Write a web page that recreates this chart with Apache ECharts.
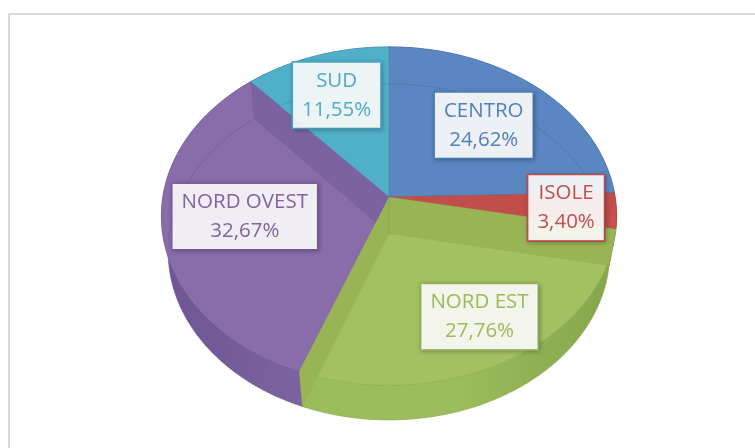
<!DOCTYPE html>
<html>
<head>
    <meta charset="UTF-8" />
    <title>Ripartizione per area</title>
    <script src="https://cdn.jsdelivr.net/npm/echarts@6/dist/echarts.min.js"></script>
    <style>
        body { margin: 0; background: #fff; }
        #main { width: 755px; height: 448px; }
    </style>
</head>
<body>
<div id="main"></div>
<script type="text/javascript">
    // dati
    var categories = ['CENTRO', 'ISOLE', 'NORD EST', 'NORD OVEST', 'SUD'];
    var shares = [24.62, 3.40, 27.76, 32.67, 11.55];

    // colori (faccia superiore, lato, banda interna, testo)
    var topColors  = ['#5a87c2', '#c8514f', '#a2c262', '#896dab', '#50afc9'];
    var sideColors = ['#4f79b2', '#b54946', '#9bbd5b', '#7e64a2', '#47a0b8'];
    var sideDark   = ['#41679c', '#9c3b39', '#84a54a', '#6d5593', '#3b8aa0'];
    var bandColors = ['#5580bb', '#c24e4b', '#98b455', '#7b62a1', '#4aa7c1'];
    var textColors = ['#4f81bd', '#c0504d', '#9bbb59', '#8064a2', '#4bacc6'];
    // posizione etichette (raggio relativo)
    var labelRadius = [0.63, 0.78, 0.76, 0.64, 0.7];

    // proiezione prospettica della torta 3D
    var cx = 389, cy = 197, F = 1357, D = 6.0, H = 0.247;
    var tilt = 47.6 * Math.PI / 180;
    var s = Math.sin(tilt), c = Math.cos(tilt);

    function proj(X, Y, Z) {
        var d = D - Z * c - Y * s;
        return [cx + F * X / d, cy + F * (Z * s - Y * c) / d];
    }
    function rim(t, Y, r) {
        r = r == null ? 1 : r;
        return proj(r * Math.sin(t), Y, -r * Math.cos(t));
    }
    function arc(t1, t2, Y) {
        var pts = [];
        var n = Math.max(2, Math.ceil(Math.abs(t2 - t1) / (Math.PI / 180)));
        for (var k = 0; k <= n; k++) {
            pts.push(rim(t1 + (t2 - t1) * k / n, Y));
        }
        return pts;
    }

    var total = shares.reduce(function (a, b) { return a + b; }, 0);
    var starts = [];
    var acc = 0;
    shares.forEach(function (v) { starts.push(acc / total * Math.PI * 2); acc += v; });

    function fmt(v) { return v.toFixed(2).replace('.', ',') + '%'; }

    var myChart = echarts.init(document.getElementById('main'));

    function renderSlice(params, api) {
        var i = params.dataIndex;
        var t1 = starts[i];
        var t2 = t1 + api.value(0) / total * Math.PI * 2;
        var children = [];

        // parete laterale
        var side = arc(t1, t2, 0).concat(arc(t2, t1, -H));
        children.push({
            type: 'polygon', z2: 1,
            shape: { points: side },
            style: {
                fill: {
                    type: 'linear', x: cx - 228, y: 0, x2: cx + 228, y2: 0, global: true,
                    colorStops: [
                        { offset: 0, color: sideDark[i] },
                        { offset: 0.35, color: sideColors[i] },
                        { offset: 0.65, color: sideColors[i] },
                        { offset: 1, color: sideDark[i] }
                    ]
                },
                stroke: sideDark[i], lineWidth: 0.6
            }
        });

        // faccia superiore
        var top = [proj(0, 0, 0)].concat(arc(t1, t2, 0));
        children.push({
            type: 'polygon', z2: 10,
            shape: { points: top },
            style: { fill: topColors[i], stroke: sideDark[i], lineWidth: 0.6, strokeOpacity: 0.6 }
        });

        // pareti radiali viste attraverso la faccia (effetto Excel)
        function band(t) {
            var pts = [proj(0, 0, 0), rim(t, 0), rim(t, -H), proj(0, -H, 0)];
            children.push({
                type: 'polygon', z2: 20 + (1 - Math.cos(t)) * 10,
                shape: { points: pts },
                style: { fill: bandColors[i], stroke: sideDark[i], lineWidth: 0.4, strokeOpacity: 0.5 }
            });
        }
        if (t1 > 0.01 && t1 < Math.PI) band(t1);
        if (t2 > Math.PI && t2 < Math.PI * 2 - 0.01) band(t2);

        // bordo inferiore posteriore, appena visibile
        var back = [];
        arc(t1, t2, -H).forEach(function (p, k, all) {
            var t = t1 + (t2 - t1) * k / (all.length - 1);
            if (Math.cos(t) > -0.05) back.push(p);
        });
        if (back.length > 1) {
            children.push({
                type: 'polyline', z2: 15,
                shape: { points: back },
                style: { stroke: 'rgba(0,0,0,0.1)', lineWidth: 1, fill: null }
            });
        }

        // etichetta
        var mid = (t1 + t2) / 2;
        var lp = rim(mid, 0, labelRadius[i]);
        children.push({
            type: 'text', z2: 100,
            x: lp[0], y: lp[1],
            style: {
                text: categories[i] + '\n' + fmt(api.value(0)),
                fill: textColors[i],
                fontFamily: '"Open Sans"',
                fontSize: 20.5,
                lineHeight: 29,
                align: 'center',
                verticalAlign: 'middle',
                backgroundColor: 'rgba(255,255,255,0.9)',
                borderColor: textColors[i],
                borderWidth: 1.6,
                padding: [4, 9, 3, 9],
                shadowBlur: 4,
                shadowColor: 'rgba(0,0,0,0.22)',
                shadowOffsetX: 1,
                shadowOffsetY: 1
            }
        });

        return { type: 'group', children: children };
    }

    var option = {
        animation: false,
        graphic: [{
            type: 'rect', z: -1,
            shape: { x: 9, y: 14, width: 900, height: 600 },
            style: { fill: null, stroke: '#d9d9d9', lineWidth: 2 }
        }],
        series: [{
            type: 'custom',
            coordinateSystem: 'none',
            renderItem: renderSlice,
            data: shares.map(function (v, k) { return { name: categories[k], value: v }; })
        }]
    };

    myChart.setOption(option);
</script>
</body>
</html>
